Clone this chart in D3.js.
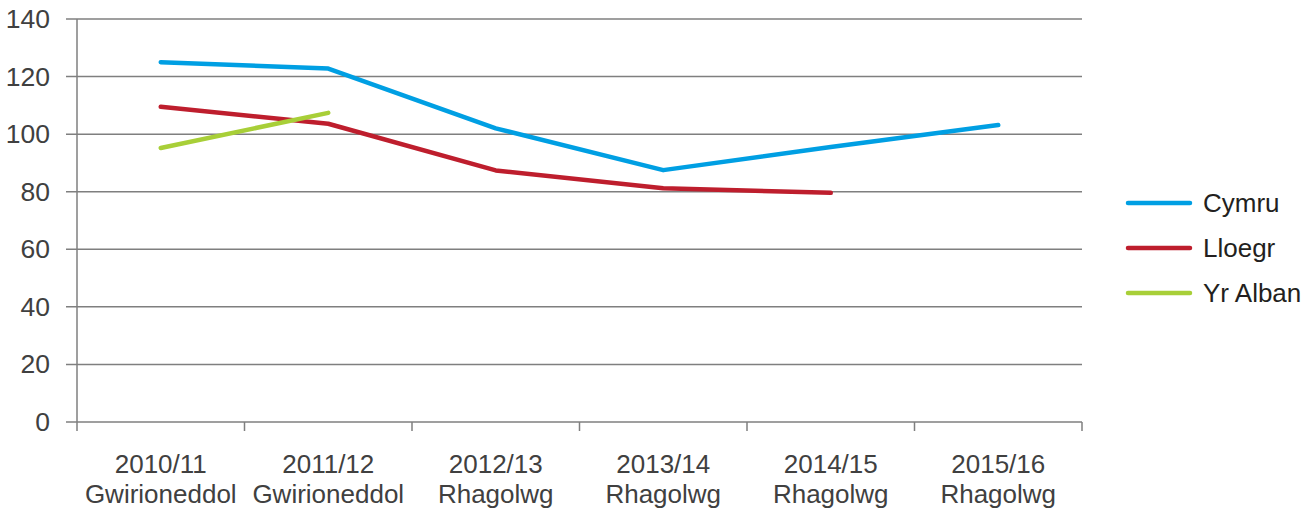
<!DOCTYPE html>
<html><head><meta charset="utf-8">
<script src="https://cdn.jsdelivr.net/npm/d3@7"></script>
<style>body{margin:0;background:#fff}svg{display:block}text{font-family:"Liberation Sans",Arial,sans-serif}</style>
</head><body><svg id="c" width="1314" height="513"></svg>
<script>
const categories = ["2010/11|Gwirioneddol","2011/12|Gwirioneddol","2012/13|Rhagolwg","2013/14|Rhagolwg","2014/15|Rhagolwg","2015/16|Rhagolwg"];
const cymru = [125.0, 122.8, 102.0, 87.5, 95.5, 103.2];
const lloegr = [109.5, 103.6, 87.4, 81.2, 79.6, null];
const yrAlban = [95.2, 107.4, null, null, null, null];
const yTicks = [0,20,40,60,80,100,120,140];
const seriesNames = ["Cymru","Lloegr","Yr Alban"];
const colors = ["#009FE3","#BE1E2D","#A8CF38"];

const svg = d3.select("#c");
const L=77, R=1082, T=19, B=422;
const x = d3.scaleBand().domain(categories).range([L,R]);
const y = d3.scaleLinear().domain([0,140]).range([B,T]);

svg.append("g").selectAll("line").data(yTicks).join("line")
  .attr("x1",66).attr("x2",R).attr("y1",d=>y(d)).attr("y2",d=>y(d))
  .attr("stroke","#7f7f7f").attr("stroke-width",1.5);
svg.append("g").selectAll("text").data(yTicks).join("text")
  .attr("x",50).attr("y",d=>y(d)+9).attr("text-anchor","end")
  .attr("font-size",26.5).attr("fill","#404040").text(d=>d);
svg.append("line").attr("x1",L).attr("x2",L).attr("y1",T).attr("y2",B+9)
  .attr("stroke","#7f7f7f").attr("stroke-width",1.5);
const xt = categories.map(c=>x(c)).concat([R]);
svg.append("g").selectAll("line").data(xt.slice(1)).join("line")
  .attr("x1",d=>d).attr("x2",d=>d).attr("y1",B).attr("y2",B+9)
  .attr("stroke","#7f7f7f").attr("stroke-width",1.5);
const xl = svg.append("g").selectAll("text").data(categories).join("text")
  .attr("text-anchor","middle").attr("font-size",26).attr("fill","#404040");
xl.append("tspan").attr("x",d=>x(d)+x.bandwidth()/2).attr("y",473).text(d=>d.split("|")[0]);
xl.append("tspan").attr("x",d=>x(d)+x.bandwidth()/2).attr("y",503).text(d=>d.split("|")[1]);

const allSeries=[cymru,lloegr,yrAlban];
const line = d3.line().defined(d=>d.v!=null).x(d=>x(d.c)+x.bandwidth()/2).y(d=>y(d.v));
allSeries.forEach((s,i)=>{
  svg.append("path").datum(s.map((v,j)=>({c:categories[j],v})))
    .attr("d",line).attr("fill","none").attr("stroke",colors[i])
    .attr("stroke-width",4.5).attr("stroke-linecap","round").attr("stroke-linejoin","round");
});
seriesNames.forEach((n,i)=>{
  const ly = 203 + i*45;
  svg.append("line").attr("x1",1128).attr("x2",1190).attr("y1",ly).attr("y2",ly)
    .attr("stroke",colors[i]).attr("stroke-width",4.5).attr("stroke-linecap","round");
  svg.append("text").attr("x",1203).attr("y",ly+9).attr("font-size",26).attr("fill","#231f20").text(n);
});
</script></body></html>
